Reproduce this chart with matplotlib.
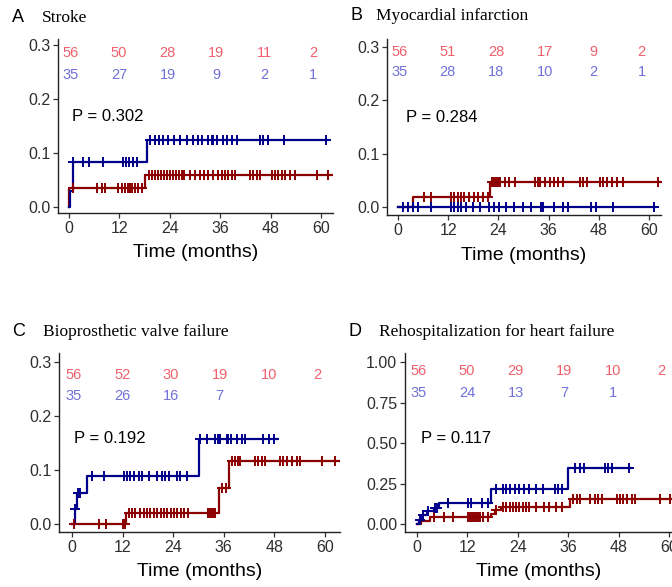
import numpy as np
import matplotlib
matplotlib.use("Agg")
import matplotlib.pyplot as plt

W, H = 672, 587

# ---------------- data ----------------
panel_letters = ["A", "B", "C", "D"]
panel_titles = ["Stroke", "Myocardial infarction", "Bioprosthetic valve failure",
                "Rehospitalization for heart failure"]
p_values = ["0.302", "0.284", "0.192", "0.117"]

risk_times = [0, 12, 24, 36, 48, 60]

# Panel A
a_red_t = [0, 0.05, 18.1]
a_red_y = [0, 0.035, 0.059]
a_red_end = 62.9
a_blue_t = [0, 0.2, 0.9, 18.5]
a_blue_y = [0, 0.029, 0.083, 0.125]
a_blue_end = 61.7
a_red_cens = [1.0, 6.7, 7.9, 8.6, 11.7, 12.6, 13.3, 14.0, 14.5, 15.0, 15.7, 16.4, 17.4,
              19.0, 19.8, 20.5, 21.2, 21.9, 22.6, 23.3, 24.0, 24.7, 25.4, 26.1, 26.8, 27.5,
              28.8, 30.0, 31.2, 32.1, 33.1, 34.3, 35.5, 36.4, 37.1, 37.9, 38.8, 39.5, 43.1,
              43.8, 44.8, 45.5, 48.3, 49.0, 49.8, 50.7, 51.4, 52.6, 53.8, 59.0, 61.7]
a_blue_cens = [1.0, 3.4, 4.8, 8.1, 12.9, 13.6, 14.3, 15.2, 16.2, 19.3, 20.5, 21.5, 22.5,
               23.5, 25.0, 26.5, 28.0, 29.5, 30.7, 31.7, 33.0, 34.0, 34.3, 35.2, 36.7, 37.6,
               38.8, 40.0, 45.5, 46.2, 47.5, 51.2, 61.3]
a_risk_red = [56, 50, 28, 19, 11, 2]
a_risk_blue = [35, 27, 19, 9, 2, 1]

# Panel B
b_red_t = [0, 3.5, 22.0]
b_red_y = [0, 0.019, 0.046]
b_red_end = 62.6
b_blue_t = [0]
b_blue_y = [0]
b_blue_end = 61.5
b_red_cens = [6.2, 7.9, 12.7, 13.4, 14.3, 15.1, 15.8, 17.0, 18.2, 19.1, 20.3, 21.5, 22.5,
              23.0, 23.5, 24.0, 24.5, 25.5, 26.5, 28.0, 32.8, 33.4, 33.9, 35.1, 36.3, 37.4,
              38.3, 39.5, 43.5, 44.3, 45.1, 48.3, 49.1, 49.9, 51.1, 52.3, 53.9, 62.2]
b_blue_cens = [1.1, 2.3, 3.5, 4.7, 7.9, 12.7, 13.5, 14.3, 15.1, 16.3, 17.9, 19.5, 21.8,
               23.0, 24.2, 25.8, 27.8, 29.8, 31.8, 34.2, 34.6, 37.4, 39.4, 40.6, 46.1, 47.3,
               51.3, 61.2]
b_risk_red = [56, 51, 28, 17, 9, 2]
b_risk_blue = [35, 28, 18, 10, 2, 1]

# Panel C
c_red_t = [0, 12.8, 34.8, 37.2]
c_red_y = [0, 0.021, 0.066, 0.117]
c_red_end = 64.0
c_blue_t = [0, 0.8, 1.3, 3.6, 30.0]
c_blue_y = [0, 0.027, 0.057, 0.089, 0.158]
c_blue_end = 48.5
c_red_cens = [0.5, 6.5, 8.1, 12.2, 12.6, 13.4, 14.2, 15.0, 16.2, 17.0, 17.8, 18.6, 19.4,
              20.2, 21.0, 21.8, 22.6, 23.4, 24.2, 25.0, 25.8, 26.6, 27.4, 32.3, 32.7, 33.1,
              33.5, 33.9, 35.5, 36.5, 37.9, 38.7, 39.4, 39.8, 43.4, 44.2, 45.0, 45.8, 49.3,
              50.1, 50.9, 52.1, 53.3, 54.1, 59.2, 62.4]
c_blue_cens = [0.8, 1.4, 2.0, 4.8, 7.5, 12.3, 13.0, 13.8, 14.6, 15.8, 16.6, 18.2, 20.2,
               21.3, 22.1, 22.9, 24.9, 25.7, 27.3, 30.4, 31.9, 33.9, 34.6, 35.1, 36.7, 37.1,
               37.7, 39.1, 40.3, 41.0, 45.4, 46.6, 47.8]
c_risk_red = [56, 52, 30, 19, 10, 2]
c_risk_blue = [35, 26, 16, 7]

# Panel D
d_red_t = [0, 1.0, 3.0, 17.5, 18.5, 20.0, 36.5]
d_red_y = [0, 0.02, 0.045, 0.065, 0.088, 0.108, 0.157]
d_red_end = 64.0
d_blue_t = [0, 0.5, 1.2, 2.5, 4.0, 5.3, 17.6, 36.0]
d_blue_y = [0, 0.028, 0.057, 0.078, 0.10, 0.13, 0.216, 0.346]
d_blue_end = 50.9
d_red_cens = [4.0, 6.4, 8.6, 12.1, 12.6, 13.1, 13.6, 14.1, 14.6, 15.1, 15.6, 16.8, 18.8,
              20.4, 21.2, 22.0, 22.8, 23.5, 24.3, 25.1, 25.9, 26.7, 28.3, 30.3, 31.5, 33.1,
              34.6, 37.2, 38.0, 38.8, 41.1, 42.3, 43.1, 43.9, 47.5, 48.3, 49.1, 49.9, 51.1,
              51.8, 57.8, 60.2]
d_blue_cens = [0.7, 1.5, 2.7, 4.3, 4.8, 7.4, 12.1, 12.9, 15.4, 17.0, 18.8, 20.4, 21.2,
               22.0, 23.2, 24.3, 25.5, 26.7, 28.3, 29.9, 32.7, 33.5, 34.6, 37.6, 38.8, 39.6,
               44.7, 45.5, 46.3, 50.3]
d_risk_red = [56, 50, 29, 19, 10, 2]
d_risk_blue = [35, 24, 13, 7, 1]

ticks_small = [0.0, 0.1, 0.2, 0.3]
ticks_small_lbl = ["0.0", "0.1", "0.2", "0.3"]
ticks_big = [0.0, 0.25, 0.5, 0.75, 1.0]
ticks_big_lbl = ["0.00", "0.25", "0.50", "0.75", "1.00"]
x_ticks = [0, 12, 24, 36, 48, 60]

# ---------------- style ----------------
RED = "#8B0000"
BLUE = "#00008B"
RED_TXT = "#F0606C"
BLUE_TXT = "#7070D8"
SANS = ["Liberation Sans", "DejaVu Sans"]
SERIF = ["Liberation Serif", "DejaVu Serif"]

fig = plt.figure(figsize=(W / 100, H / 100), dpi=100)

panels = [
    dict(box=(58, 39, 333, 213), xlim=(-2.62, 62.86), ylim=(-0.011, 0.311),
         red=(a_red_t, a_red_y, a_red_end, a_red_cens), blue=(a_blue_t, a_blue_y, a_blue_end, a_blue_cens),
         risk=(a_risk_red, a_risk_blue), risk_y=(0.285, 0.244), p_xy=(0.7, 0.167),
         ticks=(ticks_small, ticks_small_lbl), letter_xy=(12, 17), title_x=42),
    dict(box=(387, 39, 661, 215), xlim=(-2.63, 62.87), ylim=(-0.015, 0.315),
         red=(b_red_t, b_red_y, b_red_end, b_red_cens), blue=(b_blue_t, b_blue_y, b_blue_end, b_blue_cens),
         risk=(b_risk_red, b_risk_blue), risk_y=(0.291, 0.254), p_xy=(1.9, 0.168),
         ticks=(ticks_small, ticks_small_lbl), letter_xy=(351, 16), title_x=376),
    dict(box=(59, 353, 340, 532), xlim=(-3.08, 63.55), ylim=(-0.015, 0.317),
         red=(c_red_t, c_red_y, c_red_end, c_red_cens), blue=(c_blue_t, c_blue_y, c_blue_end, c_blue_cens),
         risk=(c_risk_red, c_risk_blue), risk_y=(0.276, 0.237), p_xy=(0.5, 0.159),
         ticks=(ticks_small, ticks_small_lbl), letter_xy=(12, 332), title_x=43),
    dict(box=(405, 353, 672, 532), xlim=(-2.85, 60.64), ylim=(-0.049, 1.056),
         red=(d_red_t, d_red_y, d_red_end, d_red_cens), blue=(d_blue_t, d_blue_y, d_blue_end, d_blue_cens),
         risk=(d_risk_red, d_risk_blue), risk_y=(0.944, 0.81), p_xy=(1.0, 0.529),
         ticks=(ticks_big, ticks_big_lbl), letter_xy=(349, 331), title_x=379),
]


def step_value(times, vals, t):
    idx = np.searchsorted(np.asarray(times), np.asarray(t), side="right") - 1
    return np.asarray(vals)[np.clip(idx, 0, None)]


for i, p in enumerate(panels):
    l, t, r, b = p["box"]
    ax = fig.add_axes([l / W, 1 - b / H, (r - l) / W, (b - t) / H])
    ax.set_xlim(*p["xlim"])
    ax.set_ylim(*p["ylim"])
    for key, col in (("red", RED), ("blue", BLUE)):
        times, vals, end, cens = p[key]
        xs = list(times) + [end]
        ys = list(vals) + [vals[-1]]
        ax.step(xs, ys, where="post", color=col, lw=1.6, zorder=3, clip_on=True)
        cy = step_value(times, vals, cens)
        ax.plot(cens, cy, ls="none", marker="+", ms=7.5, mew=1.4, color=col, zorder=4)
    # risk table numbers
    rr, rb = p["risk"]
    for k, n in enumerate(rr):
        ax.text(risk_times[k] * 0.965 + 0.3, p["risk_y"][0], str(n), color=RED_TXT,
                ha="center", va="center", fontsize=10.5, family=SANS, zorder=5)
    for k, n in enumerate(rb):
        ax.text(risk_times[k] * 0.965 + 0.3, p["risk_y"][1], str(n), color=BLUE_TXT,
                ha="center", va="center", fontsize=10.5, family=SANS, zorder=5)
    ax.text(p["p_xy"][0], p["p_xy"][1], "P = " + p_values[i], ha="left", va="center",
            fontsize=12, family=SANS, color="black")
    tk, tl = p["ticks"]
    ax.set_yticks(tk)
    ax.set_yticklabels(tl)
    ax.set_xticks(x_ticks)
    ax.set_xticklabels([str(v) for v in x_ticks])
    for s in ("top", "right"):
        ax.spines[s].set_visible(False)
    for s in ("left", "bottom"):
        ax.spines[s].set_color("#222222")
        ax.spines[s].set_linewidth(1.0)
    ax.tick_params(axis="both", direction="out", length=3.5, width=0.9, color="#333333",
                   labelsize=11.5, labelcolor="#2e2e2e", pad=2)
    for lab in ax.get_xticklabels() + ax.get_yticklabels():
        lab.set_family(SANS)
    ax.set_xlabel("Time (months)", fontsize=14, family=SANS, color="black")
    ax.xaxis.set_label_coords(0.5, -(40 / (b - t)))
    ax.xaxis.label.set_va("center")
    # panel letter & title
    lx, ly = p["letter_xy"]
    fig.text(lx / W, 1 - ly / H, panel_letters[i], ha="left", va="center", fontsize=13,
             family=SANS, color="black")
    fig.text(p["title_x"] / W, 1 - (ly + 0.5) / H, panel_titles[i], ha="left", va="center",
             fontsize=12.5, family=SERIF, color="black")

fig.savefig("out.png", dpi=100)
